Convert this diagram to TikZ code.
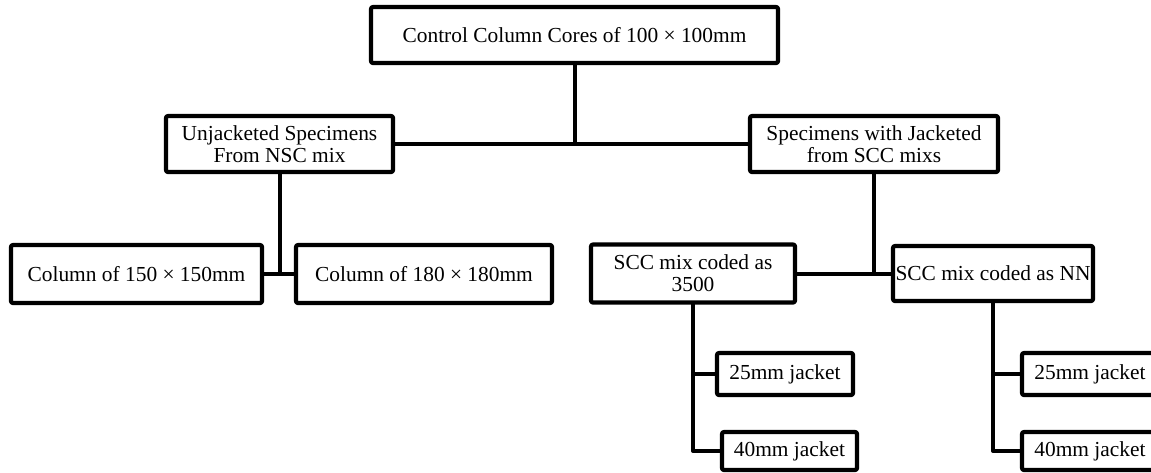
\documentclass[tikz,border=0pt]{standalone}
\usepackage{fontspec}
\setmainfont{Liberation Serif}
\begin{document}
\begin{tikzpicture}[x=0.5pt,y=-0.5pt,font=\fontsize{10.7}{11}\selectfont,line join=round,
  blk/.style={draw,line width=2.1pt,fill=white,rounded corners=1pt,align=center,inner sep=1pt,outer sep=0pt}]
\useasboundingbox (0,0) rectangle (1151,472);
\path(574.5,35) node[blk,minimum width=203.5pt,minimum height=28pt](top){Control Column Cores of 100 × 100mm};
\path(279.5,144) node[blk,minimum width=113.5pt,minimum height=28pt](unj){Unjacketed Specimens\\From NSC mix}
  (874,144) node[blk,minimum width=124pt,minimum height=28pt](jac){Specimens with Jacketed\\from SCC mixs};
\path(136.5,274) node[blk,minimum width=125.5pt,minimum height=29pt](c150){Column of 150 × 150mm}
  (424,274) node[blk,minimum width=128pt,minimum height=29pt](c180){Column of 180 × 180mm};
\path(693,273.5) node[blk,minimum width=102pt,minimum height=29pt](mix3500){SCC mix coded as\\3500}
  (993,273.5) node[blk,minimum width=100pt,minimum height=27.5pt](mixNN){SCC mix coded as NN};
\path(785,374) node[blk,minimum width=68pt,minimum height=21pt](ja25){25mm jacket}
  (789.5,451) node[blk,minimum width=67.5pt,minimum height=19pt](ja40){40mm jacket}
  (1090,374) node[blk,minimum width=68pt,minimum height=21pt](jb25){25mm jacket}
  (1090,451) node[blk,minimum width=68pt,minimum height=19pt](jb40){40mm jacket};
\begin{scope}[line width=2pt]
\draw(top)--(top|-unj);
\draw(unj)--(jac);
\draw(unj)--(unj|-c150);
\draw(c150)--(c180);
\draw(jac)--(jac|-mix3500);
\draw(mix3500)--(mixNN);
\draw(mix3500)|-(ja40);
\draw(mix3500|-ja25)--(ja25);
\draw(mixNN)|-(jb40);
\draw(mixNN|-jb25)--(jb25);
\end{scope}
\end{tikzpicture}
\end{document}
